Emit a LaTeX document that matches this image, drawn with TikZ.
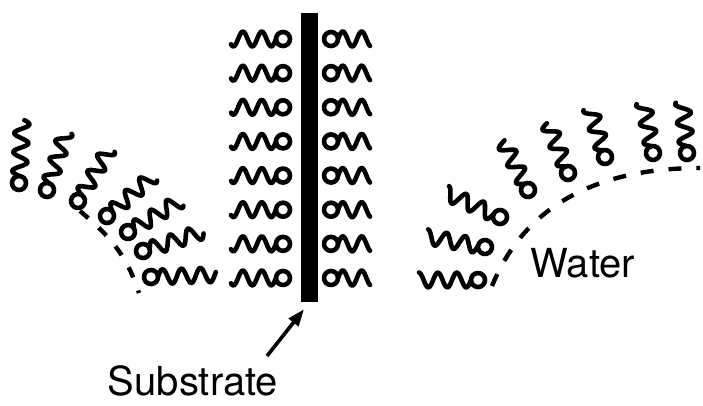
\documentclass[tikz,border=0pt]{standalone}
\usepackage{fontspec}
\setsansfont{TeX Gyre Heros}
\usetikzlibrary{arrows.meta}

\begin{document}
\begin{tikzpicture}[x=1pt,y=1pt]
      \tikzstyle{mol}=[line width=4.6pt,line cap=round,line join=round]
      \tikzstyle{surface}=[line width=4.4pt,dash pattern=on 13pt off 15pt]
      \tikzstyle{pointer}=[line width=3.6pt,-{Triangle[length=17pt,width=12pt]}]
      \tikzstyle{caption}=[font=\sffamily\fontsize{40}{40}\selectfont,inner sep=0pt,anchor=base]
      % head circle at the origin, wavy tail along +x (#1 = tail length)
      \tikzset{pics/amph/.style={code={
          \draw[mol] (0,0) circle (7pt);
          \draw[mol] plot[smooth,domain=0:#1,samples=36] ({\x+7},{7.5*sin(\x*19)});
      }}}
      \useasboundingbox (0,0) rectangle (703,-405);

      % the substrate and the two deposited layers
      \node[fill=black,minimum width=17pt,minimum height=289pt,inner sep=0pt]
          (subbar) at (309,-157.5) {};
      \foreach \i in {0,...,7} {
          \pic[rotate=180] at (283,{-39-34.14*\i}) {amph=45};
          \pic at (331,{-39-34.14*\i}) {amph=32};
      }

      % monolayer bending down on the left
      \foreach \hx/\hy/\ang/\len in {19/183/87/56, 47/190/72/54, 78/201/59/54,
              107/216/41/54, 128/232/31/54, 143/251/18/56, 151/277/2/58}
          \pic[rotate=\ang] at (\hx,-\hy) {amph=\len};
      \draw[surface,dash pattern=on 11pt off 14pt] (80,-211) to[out=-40,in=108] (139,-293);

      % monolayer on the water
      \foreach \hx/\hy/\ang/\len in {478/280/180/52, 485/247/170/52, 500/217/156/52,
              528/190/117/48, 568/173/112/47, 605/157/107/44, 653/153/101/44,
              687/153/95/44}
          \pic[rotate=\ang] at (\hx,-\hy) {amph=\len};
      \draw[surface] (492,-286) to[out=68,in=180] (700,-168);

      \node[caption] (water) at (583,-277) {Water};
      \node[caption] (sublabel) at (193,-395) {Substrate};
      \coordinate (tail) at (267,-356);
      \draw[pointer] (tail) -- ([xshift=-5pt,yshift=-7pt]subbar.south);
\end{tikzpicture}
\end{document}
